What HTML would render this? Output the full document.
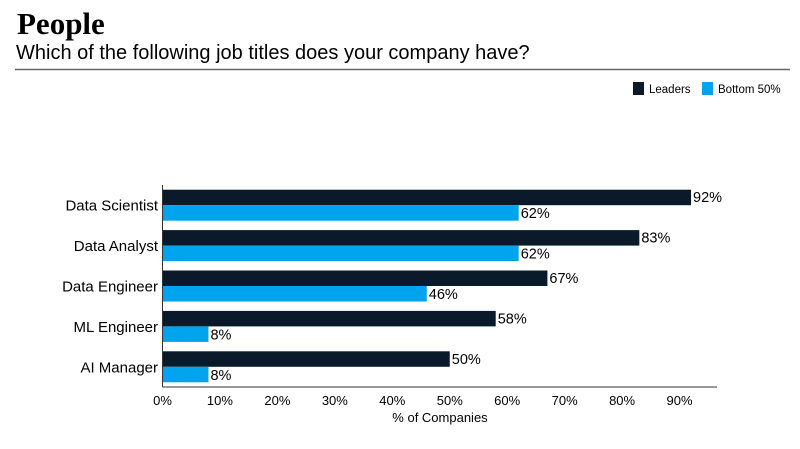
<!DOCTYPE html>
<html><head><meta charset="utf-8"><style>
body{margin:0;background:#fff;width:800px;height:444px;overflow:hidden;font-family:"Liberation Sans",sans-serif}
</style></head><body>
<svg width="800" height="444" xmlns="http://www.w3.org/2000/svg">
<text x="17" y="34" font-family="Liberation Serif" font-weight="bold" font-size="31" fill="#000">People</text>
<text x="16" y="59" font-size="20" fill="#000">Which of the following job titles does your company have?</text>
<line x1="15" y1="69.5" x2="790" y2="69.5" stroke="#666" stroke-width="1.5"/>
<g>
<rect x="633" y="82" width="11" height="13" fill="#0a1a2a"/>
<text x="649" y="93" font-size="11.5">Leaders</text>
<rect x="702" y="82" width="11" height="13" fill="#00a4ee"/>
<text x="718" y="93" font-size="11.5">Bottom 50%</text>
</g>
<g id="plot"></g>
</svg>
<script>
const categories=["Data Scientist","Data Analyst","Data Engineer","ML Engineer","AI Manager"];
const leaders=[92,83,67,58,50];
const bottom50=[62,62,46,8,8];
const ticks=[0,10,20,30,40,50,60,70,80,90];
const X0=162.5,PX=5.745,TOP=185,BAND=40.4,BOTTOM=387;
const x=v=>X0+v*PX;
const ns="http://www.w3.org/2000/svg";
const g=document.getElementById('plot');
function mk(t,a){const e=document.createElementNS(ns,t);for(const k in a)e.setAttribute(k,a[k]);g.appendChild(e);return e;}
categories.forEach((c,i)=>{
 const y0=TOP+i*BAND+4.7;
 let r=mk('rect',{x:x(0),y:y0,width:x(leaders[i])-x(0),height:15.5,fill:'#0a1a2a'});
 
 
 let r2=mk('rect',{x:x(0),y:y0+15.5,width:x(bottom50[i])-x(0),height:15.5,fill:'#00a4ee'});
 
 
 let t=mk('text',{x:x(leaders[i])+2,y:y0+12.5,'font-size':14.5});t.textContent=leaders[i]+'%';
 
 
 let t2=mk('text',{x:x(bottom50[i])+2,y:y0+28.5,'font-size':14.5});t2.textContent=bottom50[i]+'%';
 
 
 let l=mk('text',{x:158,y:y0+21,'font-size':15,'text-anchor':'end'});l.textContent=c;
 
 
});
let ya=mk('line',{x1:X0,y1:TOP,x2:X0,y2:BOTTOM,stroke:'#333','stroke-width':1});


let xa=mk('line',{x1:X0,y1:BOTTOM,x2:717,y2:BOTTOM,stroke:'#333','stroke-width':1});


ticks.forEach(v=>{
 let t=mk('text',{x:x(v),y:405,'font-size':13,'text-anchor':'middle'});t.textContent=v+'%';
 
 
});
let xt=mk('text',{x:440,y:422,'font-size':13,'text-anchor':'middle'});xt.textContent='% of Companies';


</script>
</body></html>
